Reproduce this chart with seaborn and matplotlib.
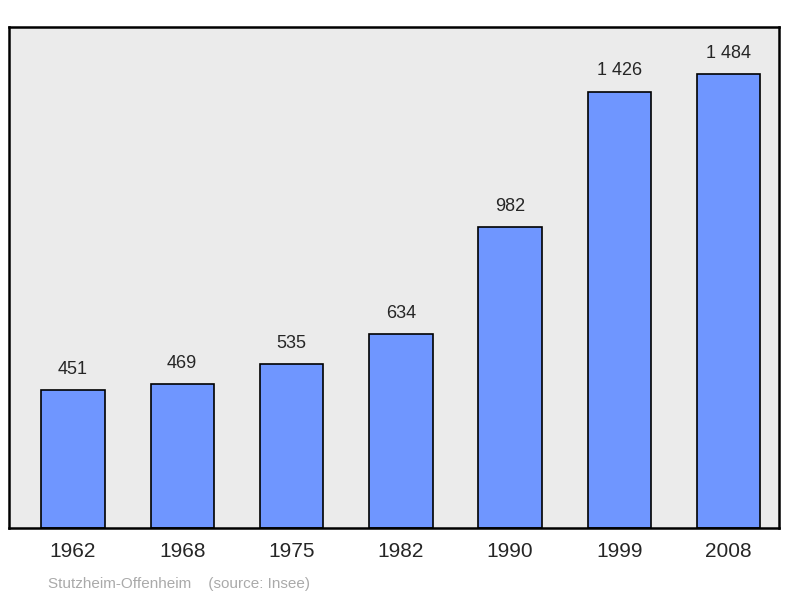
import matplotlib
matplotlib.use("Agg")
import matplotlib.pyplot as plt
import seaborn as sns
import pandas as pd

years = ["1962", "1968", "1975", "1982", "1990", "1999", "2008"]
population = [451, 469, 535, 634, 982, 1426, 1484]
value_labels = ["451", "469", "535", "634", "982", "1 426", "1 484"]

df = pd.DataFrame({"year": years, "pop": population})

sns.set_style("white")
plt.rcParams["font.family"] = ["Liberation Sans", "DejaVu Sans"]

fig = plt.figure(figsize=(8, 5.98), dpi=100)
ax = fig.add_axes([9 / 800, 1 - 528 / 598, 770 / 800, 501 / 598])
ax.set_facecolor("#ebebeb")

sns.barplot(data=df, x="year", y="pop", color="#6f96ff", saturation=1,
            width=0.58, edgecolor="black", linewidth=1.2, ax=ax)

for i, (v, lab) in enumerate(zip(population, value_labels)):
    ax.text(i, v + 40, lab, ha="center", va="bottom", fontsize=13)

ax.set_xlim(-0.585, 6.46)
ax.set_ylim(0, 1637)
ax.set_yticks([])
ax.set_xlabel("")
ax.set_ylabel("")
ax.tick_params(axis="x", length=0, labelsize=15, pad=10)
for s in ax.spines.values():
    s.set_linewidth(1.8)
    s.set_color("black")

fig.text(48 / 800, 1 - 584 / 598, "Stutzheim-Offenheim    (source: Insee)",
         color="#aaaaaa", fontsize=11, va="center")

fig.savefig("out.png", dpi=100)
